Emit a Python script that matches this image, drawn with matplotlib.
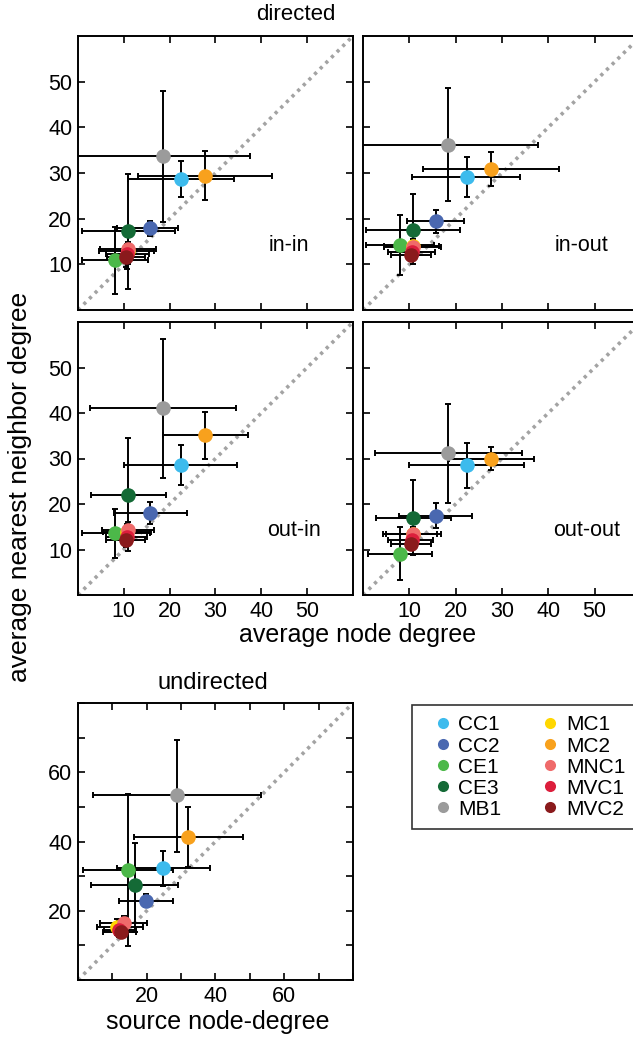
import matplotlib
matplotlib.use("Agg")
import matplotlib.pyplot as plt
from matplotlib.lines import Line2D
from matplotlib.ticker import MultipleLocator

plt.rcParams['font.family'] = ['Liberation Sans', 'DejaVu Sans']

names = ['CC1', 'CC2', 'CE1', 'CE3', 'MB1', 'MC1', 'MC2', 'MNC1', 'MVC1', 'MVC2']
colors = ['#3dbbed', '#4a68b0', '#4cb849', '#146a36', '#9b9b9b',
          '#ffd700', '#f8a11d', '#ef6a6a', '#dc1e3c', '#8a1a1c']

# in-in
inin_x = [22.4, 15.7, 8.0, 10.85, 18.5, 10.8, 27.7, 10.8, 10.6, 10.5]
inin_y = [28.6, 18.0, 10.9, 17.2, 33.7, 13.0, 29.4, 13.3, 12.2, 11.5]
inin_xlo = [10.8, 8.5, 0.8, 0.8, -1.0, 4.5, 13.1, 4.7, 6.0, 6.3]
inin_xhi = [34.1, 21.9, 15.3, 21.1, 37.6, 16.5, 42.4, 17.0, 15.5, 14.6]
inin_ylo = [24.8, 16.3, 3.4, 4.7, 19.2, 10.0, 24.1, 11.5, 9.0, 9.5]
inin_yhi = [32.7, 19.5, 18.2, 29.8, 48.0, 16.0, 34.9, 15.0, 14.5, 13.5]

# in-out
inout_x = [22.4, 15.7, 8.0, 10.8, 18.4, 10.7, 27.7, 10.7, 10.5, 10.3]
inout_y = [29.1, 19.4, 14.2, 17.6, 36.2, 14.0, 30.8, 13.8, 12.8, 12.0]
inout_xlo = [10.6, 9.6, 0.7, 0.7, -2.0, 4.5, 12.9, 4.5, 5.5, 6.0]
inout_xhi = [33.9, 21.9, 15.3, 20.9, 37.7, 16.5, 42.4, 16.9, 15.5, 14.7]
inout_ylo = [24.7, 16.9, 7.7, 10.0, 23.8, 12.0, 27.2, 12.0, 11.0, 10.8]
inout_yhi = [33.5, 22.0, 20.8, 25.3, 48.6, 15.5, 34.5, 15.5, 14.0, 13.3]

# out-in
outin_x = [22.4, 15.7, 8.0, 10.9, 18.5, 10.7, 27.8, 10.8, 10.6, 10.5]
outin_y = [28.6, 18.0, 13.6, 22.0, 41.0, 13.8, 35.1, 14.2, 12.8, 12.1]
outin_xlo = [10.1, 7.9, 0.9, 2.8, 2.6, 5.5, 18.5, 5.2, 6.0, 6.1]
outin_xhi = [34.7, 23.7, 15.7, 19.1, 34.5, 16.0, 37.0, 16.5, 15.0, 14.6]
outin_ylo = [24.2, 15.6, 8.2, 9.6, 25.7, 12.0, 29.9, 12.5, 11.0, 10.5]
outin_yhi = [33.0, 20.4, 19.0, 34.5, 56.3, 15.5, 40.3, 16.0, 14.5, 13.5]

# out-out
outout_x = [22.4, 15.7, 8.0, 10.8, 18.4, 10.7, 27.7, 10.7, 10.5, 10.3]
outout_y = [28.5, 17.4, 9.1, 16.9, 31.1, 13.5, 29.9, 13.3, 12.0, 11.3]
outout_xlo = [9.9, 7.8, 1.0, 2.7, 2.5, 5.0, 18.5, 4.4, 5.5, 6.1]
outout_xhi = [34.7, 23.6, 14.9, 18.9, 34.4, 16.0, 36.9, 16.8, 15.0, 14.6]
outout_ylo = [23.6, 14.7, 3.3, 8.7, 20.2, 11.5, 27.4, 11.8, 10.5, 10.0]
outout_yhi = [33.4, 20.2, 15.0, 25.3, 42.0, 15.0, 32.6, 14.8, 13.5, 12.8]

# undirected
und_x = [24.7, 19.8, 14.5, 16.6, 28.8, 11.4, 32.1, 13.4, 12.0, 12.4]
und_y = [32.3, 22.8, 31.8, 27.4, 53.3, 15.4, 41.2, 16.4, 14.5, 13.9]
und_xlo = [11.2, 11.9, 1.5, 3.7, 4.4, 5.6, 16.2, 6.3, 7.6, 7.3]
und_xhi = [38.5, 27.7, 27.6, 29.1, 53.3, 18.9, 48.0, 20.1, 17.0, 17.0]
und_ylo = [27.2, 21.0, 9.8, 14.0, 37.1, 13.0, 32.6, 14.5, 12.5, 12.5]
und_yhi = [37.3, 24.8, 53.8, 39.7, 69.4, 17.5, 49.9, 18.6, 16.5, 15.5]

W, H = 633, 1037
fig = plt.figure(figsize=(W / 100, H / 100), dpi=100)


def box(x0, y0, x1, y1):
    return [x0 / W, 1 - y1 / H, (x1 - x0) / W, (y1 - y0) / H]


def panel(rect, x, y, xlo, xhi, ylo, yhi, lim, major, minor=None):
    ax = fig.add_axes(rect)
    ax.plot([0, lim], [0, lim], color='#a3a3a3', lw=2.6,
            linestyle=(0, (0.9, 1.3)), zorder=1)
    for i in range(len(x)):
        ax.errorbar(x[i], y[i],
                    xerr=[[x[i] - xlo[i]], [xhi[i] - x[i]]],
                    yerr=[[y[i] - ylo[i]], [yhi[i] - y[i]]],
                    fmt='none', ecolor='black', elinewidth=1.4,
                    capsize=2, capthick=1.4, zorder=2)
    for i in range(len(x)):
        ax.plot(x[i], y[i], 'o', color=colors[i], ms=10.5, mec='none', zorder=3)
    ax.set_xlim(0, lim)
    ax.set_ylim(0, lim)
    if minor:
        ax.xaxis.set_minor_locator(MultipleLocator(minor))
        ax.yaxis.set_minor_locator(MultipleLocator(minor))
    ax.tick_params(which='both', direction='in', top=True, right=True,
                   length=5, width=1.2, labelsize=15.5, pad=4)
    for s in ax.spines.values():
        s.set_linewidth(1.4)
    ticks = [t for t in range(major, lim, major)]
    ax.set_xticks(ticks)
    ax.set_yticks(ticks)
    return ax


ax1 = panel(box(78, 36, 353, 310), inin_x, inin_y, inin_xlo, inin_xhi, inin_ylo, inin_yhi, 60, 10)
ax2 = panel(box(363, 36, 641, 310), inout_x, inout_y, inout_xlo, inout_xhi, inout_ylo, inout_yhi, 60, 10)
ax3 = panel(box(78, 322, 353, 595), outin_x, outin_y, outin_xlo, outin_xhi, outin_ylo, outin_yhi, 60, 10)
ax4 = panel(box(363, 322, 641, 595), outout_x, outout_y, outout_xlo, outout_xhi, outout_ylo, outout_yhi, 60, 10)
ax5 = panel(box(78, 703, 353, 980), und_x, und_y, und_xlo, und_xhi, und_ylo, und_yhi, 80, 20, 10)

ax1.tick_params(labelbottom=False)
ax2.tick_params(labelbottom=False, labelleft=False)
ax4.tick_params(labelleft=False)

for ax, txt, xp in [(ax1, 'in-in', 0.765), (ax2, 'in-out', 0.785),
                    (ax3, 'out-in', 0.785), (ax4, 'out-out', 0.805)]:
    ax.text(xp, 0.235, txt, transform=ax.transAxes, fontsize=15.5,
            ha='center', va='center')

fig.text(296 / W, 1 - 15 / H, 'directed', fontsize=16, ha='center', va='center')
fig.text(358 / W, 1 - 635 / H, 'average node degree', fontsize=18, ha='center', va='center')
fig.text(20 / W, 1 - 487 / H, 'average nearest neighbor degree', fontsize=19,
         rotation=90, ha='center', va='center')
fig.text(213 / W, 1 - 683 / H, 'undirected', fontsize=17, ha='center', va='center')
fig.text(218 / W, 1 - 1022 / H, 'source node-degree', fontsize=18, ha='center', va='center')

handles = [Line2D([], [], marker='o', ls='none', color=c, mec='none', ms=8) for c in colors]
leg = fig.legend(handles, names, ncol=2,
                 loc='upper left', bbox_to_anchor=(412 / W, 1 - 705 / H),
                 fontsize=15, frameon=True, fancybox=False, edgecolor='black',
                 handlelength=1.93, handletextpad=-0.2, columnspacing=1.35,
                 labelspacing=0.1, borderpad=0.5, borderaxespad=0)
leg.get_frame().set_linewidth(1.2)

fig.savefig('out.png', dpi=100)
